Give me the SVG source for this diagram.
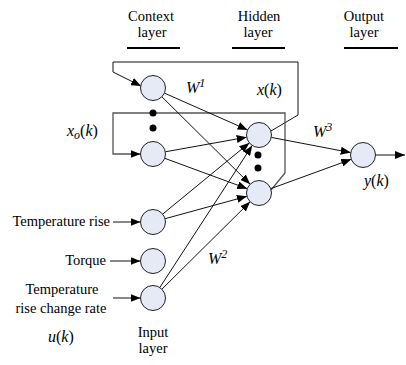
<svg xmlns="http://www.w3.org/2000/svg" width="406" height="365" viewBox="0 0 406 365" font-family="'Liberation Serif', 'Times New Roman', serif">
<style>
text{font-family:'Liberation Serif','Times New Roman',serif}
.t{font-size:14.5px;fill:#000}
.i{font-size:16px;font-style:italic;fill:#000}
.p{font-style:normal}
.c{text-anchor:middle}
.e{text-anchor:end}
.n{fill:#e6eaf6;stroke:#222;stroke-width:1}
.l{fill:none;stroke:#111;stroke-width:1}
.g{fill:none;stroke:#555;stroke-width:1.3}
.u{stroke:#000;stroke-width:2}
.d{fill:#000}
</style>
<defs>
<marker id="a" markerUnits="userSpaceOnUse" markerWidth="11" markerHeight="8" refX="10" refY="4" orient="auto">
<path d="M0,0 L10,4 L0,8 z" fill="#000"/>
</marker>
</defs>
<g id="headers">
<text class="t c" x="151" y="21">Context</text>
<text class="t c" x="152" y="37">layer</text>
<line class="u" x1="127" y1="48" x2="180" y2="48"/>
<text class="t c" x="259" y="21">Hidden</text>
<text class="t c" x="258" y="37">layer</text>
<line class="u" x1="232" y1="48" x2="285" y2="48"/>
<text class="t c" x="364" y="21">Output</text>
<text class="t c" x="364" y="37">layer</text>
<line class="u" x1="344" y1="48" x2="398" y2="48"/>
</g>
<g id="connectors">
<polyline class="l" points="271,131 298,115 298,62 113,62 113,72 141,86" marker-end="url(#a)"/>
<polyline class="g" points="271,190 285,173 285,113 113,113 113,154 140.5,154" marker-end="url(#a)"/>
<line class="l" x1="164.4" y1="93.1" x2="247.6" y2="129.9" marker-end="url(#a)"/>
<line class="l" x1="161.9" y1="96.8" x2="250.1" y2="184.2" marker-end="url(#a)"/>
<line class="l" x1="165.3" y1="151.8" x2="246.7" y2="137.2" marker-end="url(#a)"/>
<line class="l" x1="164.7" y1="158.3" x2="247.3" y2="188.7" marker-end="url(#a)"/>
<line class="l" x1="162.7" y1="214.1" x2="249.3" y2="142.9" marker-end="url(#a)"/>
<line class="l" x1="165.1" y1="218.7" x2="246.9" y2="196.3" marker-end="url(#a)"/>
<line class="l" x1="159.8" y1="287.5" x2="252.2" y2="145.5" marker-end="url(#a)"/>
<line class="l" x1="161.9" y1="289.2" x2="250.1" y2="201.8" marker-end="url(#a)"/>
<line class="l" x1="271.3" y1="137.4" x2="350.7" y2="152.6" marker-end="url(#a)"/>
<line class="l" x1="270.7" y1="188.7" x2="351.3" y2="159.3" marker-end="url(#a)"/>
<line class="l" x1="375.5" y1="155" x2="405" y2="155" marker-end="url(#a)"/>
<line class="l" x1="113" y1="222" x2="140.5" y2="222" marker-end="url(#a)"/>
<line class="l" x1="110" y1="261" x2="140.5" y2="261" marker-end="url(#a)"/>
<line class="l" x1="113" y1="298" x2="140.5" y2="298" marker-end="url(#a)"/>
</g>
<g id="context1"><circle class="n" cx="153" cy="88" r="12.5"/></g>
<g id="context2"><circle class="n" cx="153" cy="154" r="12.5"/></g>
<g id="context-dots"><circle class="d" cx="153" cy="113" r="3.5"/><circle class="d" cx="153" cy="128" r="3.5"/></g>
<g id="hidden1"><circle class="n" cx="259" cy="135" r="12.5"/></g>
<g id="hidden2"><circle class="n" cx="259" cy="193" r="12.5"/></g>
<g id="hidden-dots"><circle class="d" cx="258" cy="155" r="3.5"/><circle class="d" cx="258" cy="168" r="3.5"/></g>
<g id="output"><circle class="n" cx="363" cy="155" r="12.5"/></g>
<g id="input1"><circle class="n" cx="153" cy="222" r="12.5"/></g>
<g id="input2"><circle class="n" cx="153" cy="261" r="12.5"/></g>
<g id="input3"><circle class="n" cx="153" cy="298" r="12.5"/></g>
<g id="labels">
<text class="t e" x="110" y="226">Temperature rise</text>
<text class="t e" x="106" y="265">Torque</text>
<text class="t c" x="62" y="294">Temperature</text>
<text class="t c" x="61" y="313">rise change rate</text>
<text class="t c" x="153" y="337">Input</text>
<text class="t c" x="153" y="353">layer</text>
<text class="i" x="48" y="342">u<tspan class="p">(</tspan>k<tspan class="p">)</tspan></text>
<text class="i" x="67" y="136">x<tspan font-size="12" dy="3">o</tspan><tspan class="p" dy="-3">(</tspan>k<tspan class="p">)</tspan></text>
<text class="i" x="186" y="93">W<tspan font-size="12" dy="-6">1</tspan></text>
<text class="i" x="257" y="95">x<tspan class="p">(</tspan>k<tspan class="p">)</tspan></text>
<text class="i" x="313" y="137">W<tspan font-size="12" dy="-6">3</tspan></text>
<text class="i" x="208" y="264">W<tspan font-size="12" dy="-6">2</tspan></text>
<text class="i" x="364" y="186">y<tspan class="p">(</tspan>k<tspan class="p">)</tspan></text>
</g>
</svg>
